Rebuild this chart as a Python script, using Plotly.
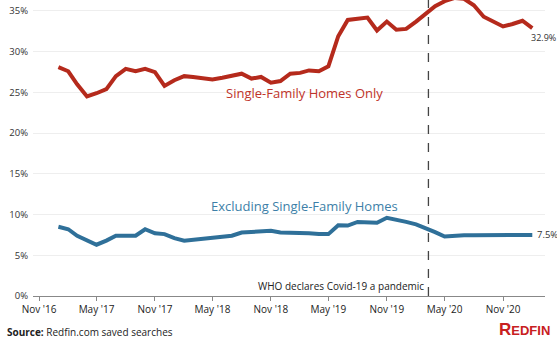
import plotly.graph_objects as go
import pandas as pd

dates = pd.date_range("2017-01-01", "2021-02-01", freq="MS")

single_family = [28.1, 27.6, 26.0, 24.5, 24.9, 25.4, 27.0, 27.9, 27.6, 27.9,
                 27.5, 25.8, 26.5, 27.0, 26.9, 26.8, 26.6, 26.8, 27.0, 27.3,
                 26.7, 26.9, 26.2, 26.4, 27.3, 27.4, 27.7, 27.6, 28.2, 31.9,
                 33.9, 34.1, 34.2, 32.6, 33.7, 32.7, 32.8, 33.7, 34.6, 35.6,
                 36.2, 36.6, 36.5, 35.7, 34.3, 33.7, 33.1, 33.4, 33.8, 32.9]

excluding_sf = [8.5, 8.2, 7.4, 6.9, 6.3, 6.8, 7.4, 7.4, 7.4, 8.2,
                7.7, 7.6, 7.1, 6.8, 6.9, 7.0, 7.1, 7.25, 7.4, 7.8,
                7.9, 8.0, 8.0, 7.8, 7.8, 7.75, 7.7, 7.6, 7.6, 8.7,
                8.65, 9.1, 9.1, 9.0, 9.6, 9.4, 9.1, 8.8, 8.4, 7.85,
                7.3, 7.4, 7.45, 7.45, 7.45, 7.45, 7.5, 7.5, 7.5, 7.5]

tick_dates = ["2016-11-01", "2017-05-01", "2017-11-01", "2018-05-01", "2018-11-01",
              "2019-05-01", "2019-11-01", "2020-05-01", "2020-11-01"]
tick_labels = ["Nov '16", "May '17", "Nov '17", "May '18", "Nov '18",
               "May '19", "Nov '19", "May '20", "Nov '20"]
y_ticks = [0, 5, 10, 15, 20, 25, 30, 35]
y_labels = ["0%", "5%", "10%", "15%", "20%", "25%", "30%", "35%"]

pandemic_date = "2020-03-11"

RED = "#b52a1c"
BLUE = "#2f7099"
FONT = "Open Sans"

fig = go.Figure()
fig.add_trace(go.Scatter(x=dates, y=single_family, mode="lines",
                         line=dict(color=RED, width=4), hoverinfo="skip"))
fig.add_trace(go.Scatter(x=dates, y=excluding_sf, mode="lines",
                         line=dict(color=BLUE, width=4), hoverinfo="skip"))

fig.add_shape(type="line", x0=pandemic_date, x1=pandemic_date, xref="x",
              y0=0, y1=1, yref="paper",
              line=dict(color="#444444", width=1.3, dash="dash"))

annotations = [
    dict(x="2019-02-16", y=24.9, text="Single-Family Homes Only",
         font=dict(color="#c0332a", size=13, family=FONT), showarrow=False),
    dict(x="2019-02-16", y=11.05, text="Excluding Single-Family Homes",
         font=dict(color="#3d7fa8", size=13, family=FONT), showarrow=False),
    dict(x=dates[-1], y=single_family[-1], text=f"{single_family[-1]}%",
         xanchor="left", yanchor="middle", xshift=-3, yshift=-9,
         font=dict(color="#333333", size=9, family=FONT), showarrow=False),
    dict(x=dates[-1], y=excluding_sf[-1], text=f"{excluding_sf[-1]}%",
         xanchor="left", yanchor="middle", xshift=3, yshift=0,
         font=dict(color="#333333", size=9.5, family=FONT), showarrow=False),
    dict(x=pandemic_date, y=0, text="WHO declares Covid-19 a pandemic",
         xanchor="right", yanchor="bottom", xshift=-2, yshift=1,
         font=dict(color="#222222", size=10, family=FONT), showarrow=False),
    dict(x=0, y=0, xref="paper", yref="paper", xanchor="left", yanchor="middle",
         xshift=-28, yshift=-36,
         text="<b>Source:</b> Redfin.com saved searches",
         font=dict(color="#222222", size=10, family=FONT), showarrow=False),
    dict(x=1, y=0, xref="paper", yref="paper", xanchor="right", yanchor="middle",
         xshift=7, yshift=-33,
         text="<b>R<span style='font-size:13px'>EDFIN</span></b>",
         font=dict(color="#c82021", size=17, family="Liberation Sans"), showarrow=False),
]

fig.update_layout(
    width=557, height=339,
    margin=dict(l=33, r=12, t=0, b=43),
    plot_bgcolor="white", paper_bgcolor="white",
    showlegend=False,
    annotations=annotations,
    font=dict(family=FONT, color="#333333", size=10),
    xaxis=dict(range=["2016-10-13", "2021-03-13"], tickvals=tick_dates, ticktext=tick_labels,
               showgrid=False, showline=True, linecolor="#888888", linewidth=1,
               ticks="outside", ticklen=4, tickcolor="#888888",
               tickfont=dict(size=10, color="#222222", family=FONT), zeroline=False),
    yaxis=dict(range=[0, 36.35], tickvals=y_ticks, ticktext=y_labels,
               showgrid=True, gridcolor="#eeeeee", gridwidth=1, zeroline=False,
               showline=False, ticks="", ticklabelstandoff=4,
               tickfont=dict(size=9.5, color="#333333", family=FONT)),
)

fig.write_html("out.html")
